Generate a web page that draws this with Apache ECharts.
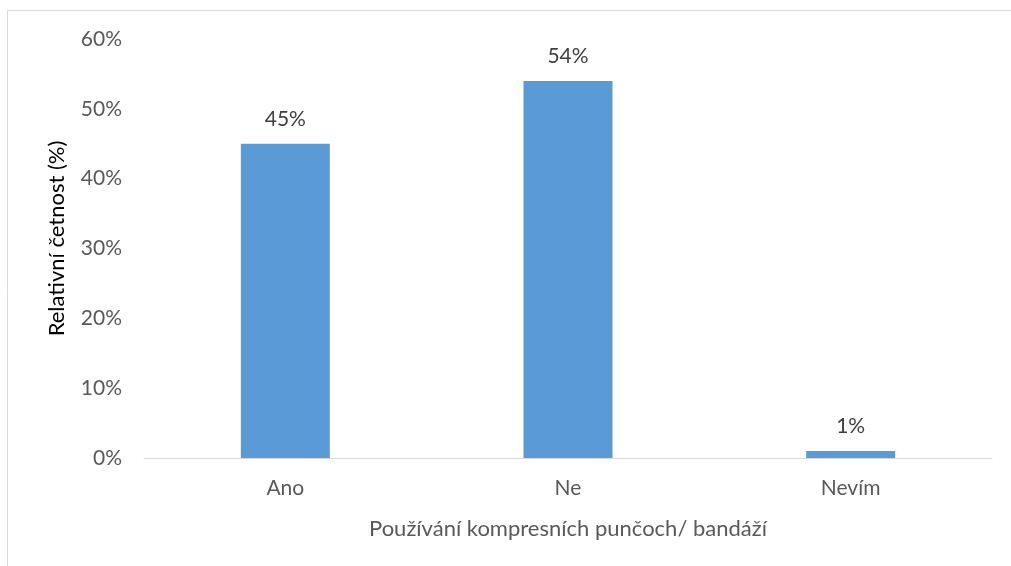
<!DOCTYPE html>
<html>
<head>
<meta charset="utf-8">
<script src="https://cdn.jsdelivr.net/npm/echarts@6/dist/echarts.min.js"></script>
<style>
  html, body { margin: 0; padding: 0; background: #fff; }
  #chart { width: 1011px; height: 566px; }
</style>
</head>
<body>
<div id="chart"></div>
<script>
// Survey answers: use of compression stockings / bandages
const categories = ['Ano', 'Ne', 'Nevím'];
const shares = [45, 54, 1];
const yTicks = [0, 10, 20, 30, 40, 50, 60];

const FONT = 'Lato, "Open Sans", sans-serif';
const chart = echarts.init(document.getElementById('chart'), null, { renderer: 'canvas' });

chart.setOption({
  animation: false,
  backgroundColor: '#fff',
  textStyle: { fontFamily: FONT },
  graphic: [{
    type: 'rect',
    shape: { x: 7.5, y: 10.5, width: 1100, height: 700 },
    style: { fill: 'none', stroke: '#D9D9D9', lineWidth: 1 },
    silent: true
  }],
  grid: { left: 144, right: 19, top: 39, bottom: 108, containLabel: false },
  xAxis: {
    type: 'category',
    data: categories,
    name: 'Používání kompresních punčoch/ bandáží',
    nameLocation: 'middle',
    nameGap: 60,
    nameTextStyle: { fontSize: 22, color: '#595959', fontFamily: FONT },
    axisLine: { lineStyle: { color: '#D9D9D9', width: 1 } },
    axisTick: { show: false },
    axisLabel: { fontSize: 21, color: '#595959', margin: 20, fontFamily: FONT }
  },
  yAxis: {
    type: 'value',
    min: yTicks[0],
    max: yTicks[yTicks.length - 1],
    interval: 10,
    name: 'Relativní četnost (%)',
    nameLocation: 'middle',
    nameGap: 76,
    nameRotate: 90,
    nameTextStyle: { fontSize: 22, color: '#000', fontFamily: FONT, padding: [0, 0, 0, 20] },
    axisLine: { show: false },
    axisTick: { show: false },
    splitLine: { show: false },
    axisLabel: {
      fontSize: 21, color: '#595959', margin: 22, fontFamily: FONT,
      formatter: v => v + '%'
    }
  },
  series: [{
    type: 'bar',
    data: shares,
    barWidth: 89,
    itemStyle: { color: '#5B9BD5' },
    label: {
      show: true,
      position: 'top',
      distance: 14,
      fontSize: 21,
      color: '#404040',
      fontFamily: FONT,
      formatter: p => p.value + '%'
    }
  }]
});
</script>
</body>
</html>
